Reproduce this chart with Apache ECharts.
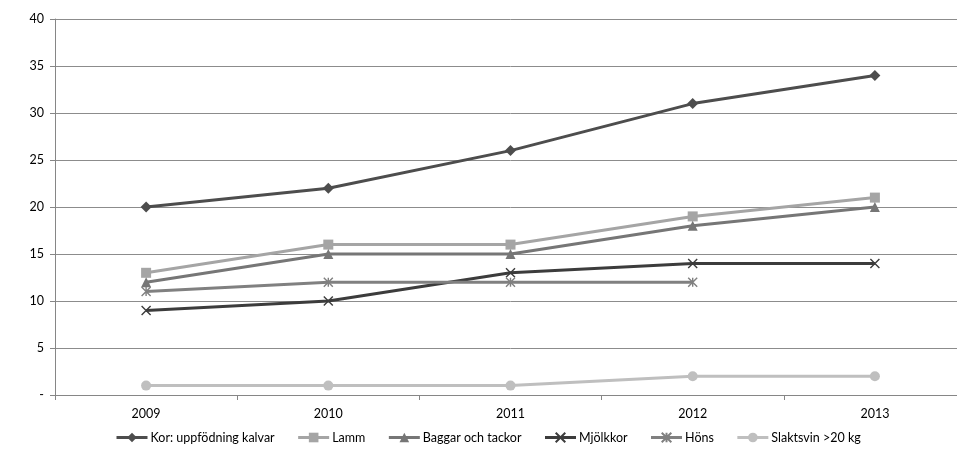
<!DOCTYPE html>
<html>
<head>
<meta charset="utf-8">
<script src="https://cdn.jsdelivr.net/npm/echarts@6/dist/echarts.min.js"></script>
<style>
  html, body { margin: 0; padding: 0; background: #fff; overflow: hidden; }
  /* the canvas is a little wider than the window so the last category is cut off at the right */
  #chart { width: 966px; height: 453px; }
</style>
</head>
<body>
<div id="chart"></div>
<script>
// Years on the category axis
const years = ['2009', '2010', '2011', '2012', '2013'];

// Series values per year
const korKalvar = [20, 22, 26, 31, 34];
const lamm = [13, 16, 16, 19, 21];
const baggarTackor = [12, 15, 15, 18, 20];
const mjolkkor = [9, 10, 13, 14, 14];
const hons = [11, 12, 12, 12, null];
const slaktsvin = [1, 1, 1, 2, 2];

// Value axis tick labels (zero is shown as a dash)
const yTickLabels = { 0: '-', 5: '5', 10: '10', 15: '15', 20: '20', 25: '25', 30: '30', 35: '35', 40: '40' };

const crossPath = 'path://M0,0L10,10M10,0L0,10';
const starPath = 'path://M0,0L10,10M10,0L0,10M5,0L5,10';

function lineSeries(name, data, color, symbol, size, stroke) {
  return {
    name: name,
    type: 'line',
    data: data,
    symbol: symbol,
    symbolSize: size,
    showAllSymbol: true,
    lineStyle: { color: color, width: 3 },
    itemStyle: stroke
      ? { color: color, borderColor: color, borderWidth: 1.4 }
      : { color: color, borderWidth: 0 },
    emphasis: { disabled: true },
    animation: false
  };
}

const chart = echarts.init(document.getElementById('chart'));
chart.setOption({
  backgroundColor: '#fff',
  textStyle: { fontFamily: 'Lato, "Open Sans", sans-serif' },
  grid: { left: 55, right: 0, top: 19, bottom: 58, containLabel: false },
  xAxis: {
    type: 'category',
    data: years,
    boundaryGap: true,
    axisLine: { lineStyle: { color: '#868686', width: 1 } },
    axisTick: { show: true, length: 5, lineStyle: { color: '#868686' } },
    axisLabel: { color: '#000', fontSize: 12.5, margin: 12 }
  },
  yAxis: {
    type: 'value',
    min: 0,
    max: 40,
    interval: 5,
    axisLine: { show: true, lineStyle: { color: '#868686', width: 1 } },
    axisTick: { show: true, length: 5, lineStyle: { color: '#868686' } },
    splitLine: { lineStyle: { color: '#8c8c8c', width: 1 } },
    axisLabel: {
      color: '#000',
      fontSize: 12.5,
      margin: 11,
      formatter: function (v) { return yTickLabels[v]; }
    }
  },
  legend: {
    bottom: 4,
    left: 110,
    itemWidth: 31,
    itemHeight: 12,
    itemGap: 22,
    lineStyle: { width: 3 },
    textStyle: { color: '#000', fontSize: 12.5, padding: [0, 0, 0, -2] },
    data: ['Kor: uppfödning kalvar', 'Lamm', 'Baggar och tackor', 'Mjölkkor', 'Höns', 'Slaktsvin >20 kg']
  },
  series: [
    lineSeries('Kor: uppfödning kalvar', korKalvar, '#4d4d4d', 'diamond', 11, false),
    lineSeries('Lamm', lamm, '#a5a5a5', 'rect', 10, false),
    lineSeries('Baggar och tackor', baggarTackor, '#767676', 'triangle', 10, false),
    lineSeries('Mjölkkor', mjolkkor, '#3c3c3c', crossPath, 9, true),
    lineSeries('Höns', hons, '#808080', starPath, 9, true),
    lineSeries('Slaktsvin >20 kg', slaktsvin, '#bfbfbf', 'circle', 10, false)
  ]
});
</script>
</body>
</html>
